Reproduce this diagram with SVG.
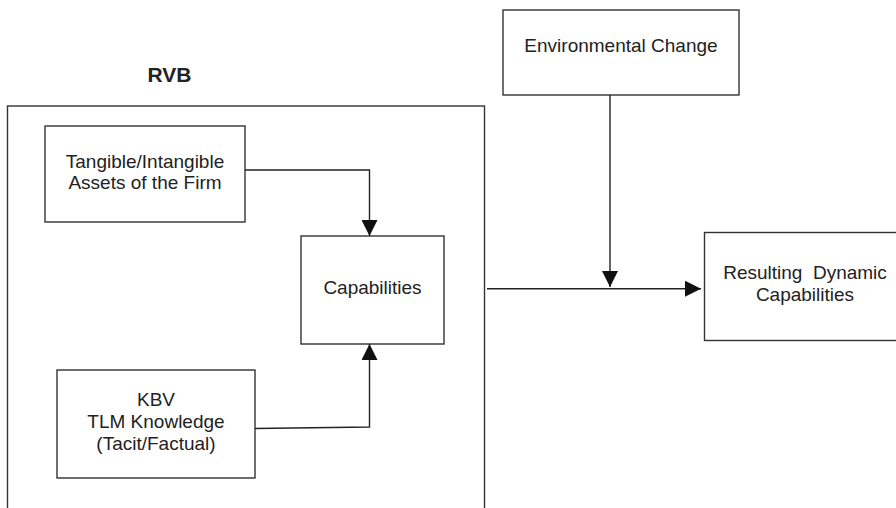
<svg xmlns="http://www.w3.org/2000/svg" width="896" height="508" viewBox="0 0 896 508">
<defs>
<style>
.box{fill:#fff;stroke:#333;stroke-width:1.4}
.t{font-family:"Liberation Sans",Arial,sans-serif;font-size:19px;fill:#222;text-anchor:middle}
.b{font-family:"Liberation Sans",Arial,sans-serif;font-size:21px;font-weight:bold;fill:#222;text-anchor:middle}
.ln{fill:none;stroke:#222;stroke-width:1.4}
</style>
<marker id="ah" viewBox="0 0 16 16" refX="16" refY="8" markerWidth="16" markerHeight="16" markerUnits="userSpaceOnUse" orient="auto">
<path d="M0,0 L16,8 L0,16 Z" fill="#111"/>
</marker>
</defs>
<rect width="896" height="508" fill="#fff"/>
<g id="rvb">
<rect class="box" x="7.5" y="106" width="477" height="420"/>
<text class="b" x="169.5" y="82">RVB</text>
</g>
<g id="tangible">
<rect class="box" x="45" y="126" width="200" height="96"/>
<text class="t" x="145" y="168">Tangible/Intangible</text>
<text class="t" x="145" y="189">Assets of the Firm</text>
</g>
<g id="capabilities">
<rect class="box" x="301" y="236" width="143" height="108"/>
<text class="t" x="372.5" y="294">Capabilities</text>
</g>
<g id="kbv">
<rect class="box" x="57" y="370" width="198" height="108"/>
<text class="t" x="156" y="406">KBV</text>
<text class="t" x="156" y="428">TLM Knowledge</text>
<text class="t" x="156" y="450">(Tacit/Factual)</text>
</g>
<g id="environmental">
<rect class="box" x="503" y="10" width="236" height="85"/>
<text class="t" x="621" y="52">Environmental Change</text>
</g>
<g id="resulting">
<rect class="box" x="704.5" y="232.5" width="200" height="108"/>
<text class="t" x="805" y="279" xml:space="preserve">Resulting  Dynamic</text>
<text class="t" x="805" y="301">Capabilities</text>
</g>
<g id="connectors">
<polyline class="ln" points="245,170 369.5,170 369.5,236" marker-end="url(#ah)"/>
<polyline class="ln" points="255,428.5 369.5,427 369.5,344" marker-end="url(#ah)"/>
<line class="ln" x1="610" y1="95" x2="610" y2="287" marker-end="url(#ah)"/>
<line class="ln" x1="487" y1="288.7" x2="701" y2="288.7" marker-end="url(#ah)"/>
</g>
</svg>
